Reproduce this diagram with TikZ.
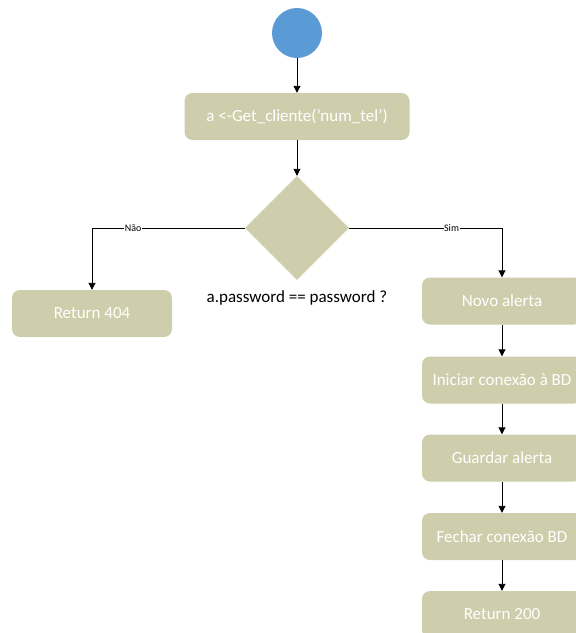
\documentclass[tikz,border=0pt]{standalone}
\usepackage{fontspec}
\setmainfont{Carlito}
\usetikzlibrary{shapes.geometric,arrows.meta}
\definecolor{boxfill}{RGB}{206,206,172}
\definecolor{startblue}{RGB}{91,155,213}
\tikzset{
  actbox/.style={draw=none, fill=boxfill, rounded corners=8pt, minimum width=160pt,
    minimum height=47pt, text=white, font=\fontsize{17}{20}\selectfont, inner sep=0pt},
  decision/.style={diamond, fill=boxfill, draw=none, minimum width=104pt, minimum height=104pt, inner sep=0pt},
  flow/.style={draw=black, line width=0.9pt, -{Triangle[length=7pt,width=7pt]}},
  branch/.style={font=\fontsize{10}{11}\selectfont, fill=white, inner sep=0.5pt}
}
\begin{document}
\begin{tikzpicture}[x=1pt,y=-1pt]
\useasboundingbox (0,0) rectangle (576,633);
\begin{scope}
\clip (0,0) rectangle (576,633);
\node[circle, fill=startblue, minimum size=50pt, inner sep=0pt] (start) at (297,33) {};
\node[actbox, minimum width=225pt] (get) at (297,116.5) {a <-Get\_cliente('num\_tel')};
\node[decision] (dec) at (297,228) {};
\node[font=\fontsize{17}{20}\selectfont, inner sep=0pt] (cond) at (297,298) {a.password == password ?};
\node[actbox] (r404) at (92,313.5) {Return 404};
\node[actbox] (novo) at (502,301) {Novo alerta};
\node[actbox] (ini) at (502,380) {Iniciar conexão à BD};
\node[actbox] (guard) at (502,458) {Guardar alerta};
\node[actbox] (fech) at (502,536.5) {Fechar conexão BD};
\node[actbox] (r200) at (502,614.5) {Return 200};

\coordinate (lc) at (92,228);
\coordinate (rc) at (502,228);

\draw[flow] (start) -- (get);
\draw[flow] (get) -- (dec);
\draw[flow] (dec.west) -- node[branch, pos=0.73] {Não} (lc) -- (r404);
\draw[flow] (dec.east) -- node[branch, pos=0.67] {Sim} (rc) -- (novo);
\draw[flow] (novo) -- (ini);
\draw[flow] (ini) -- (guard);
\draw[flow] (guard) -- (fech);
\draw[flow] (fech) -- (r200);
\end{scope}
\end{tikzpicture}
\end{document}
